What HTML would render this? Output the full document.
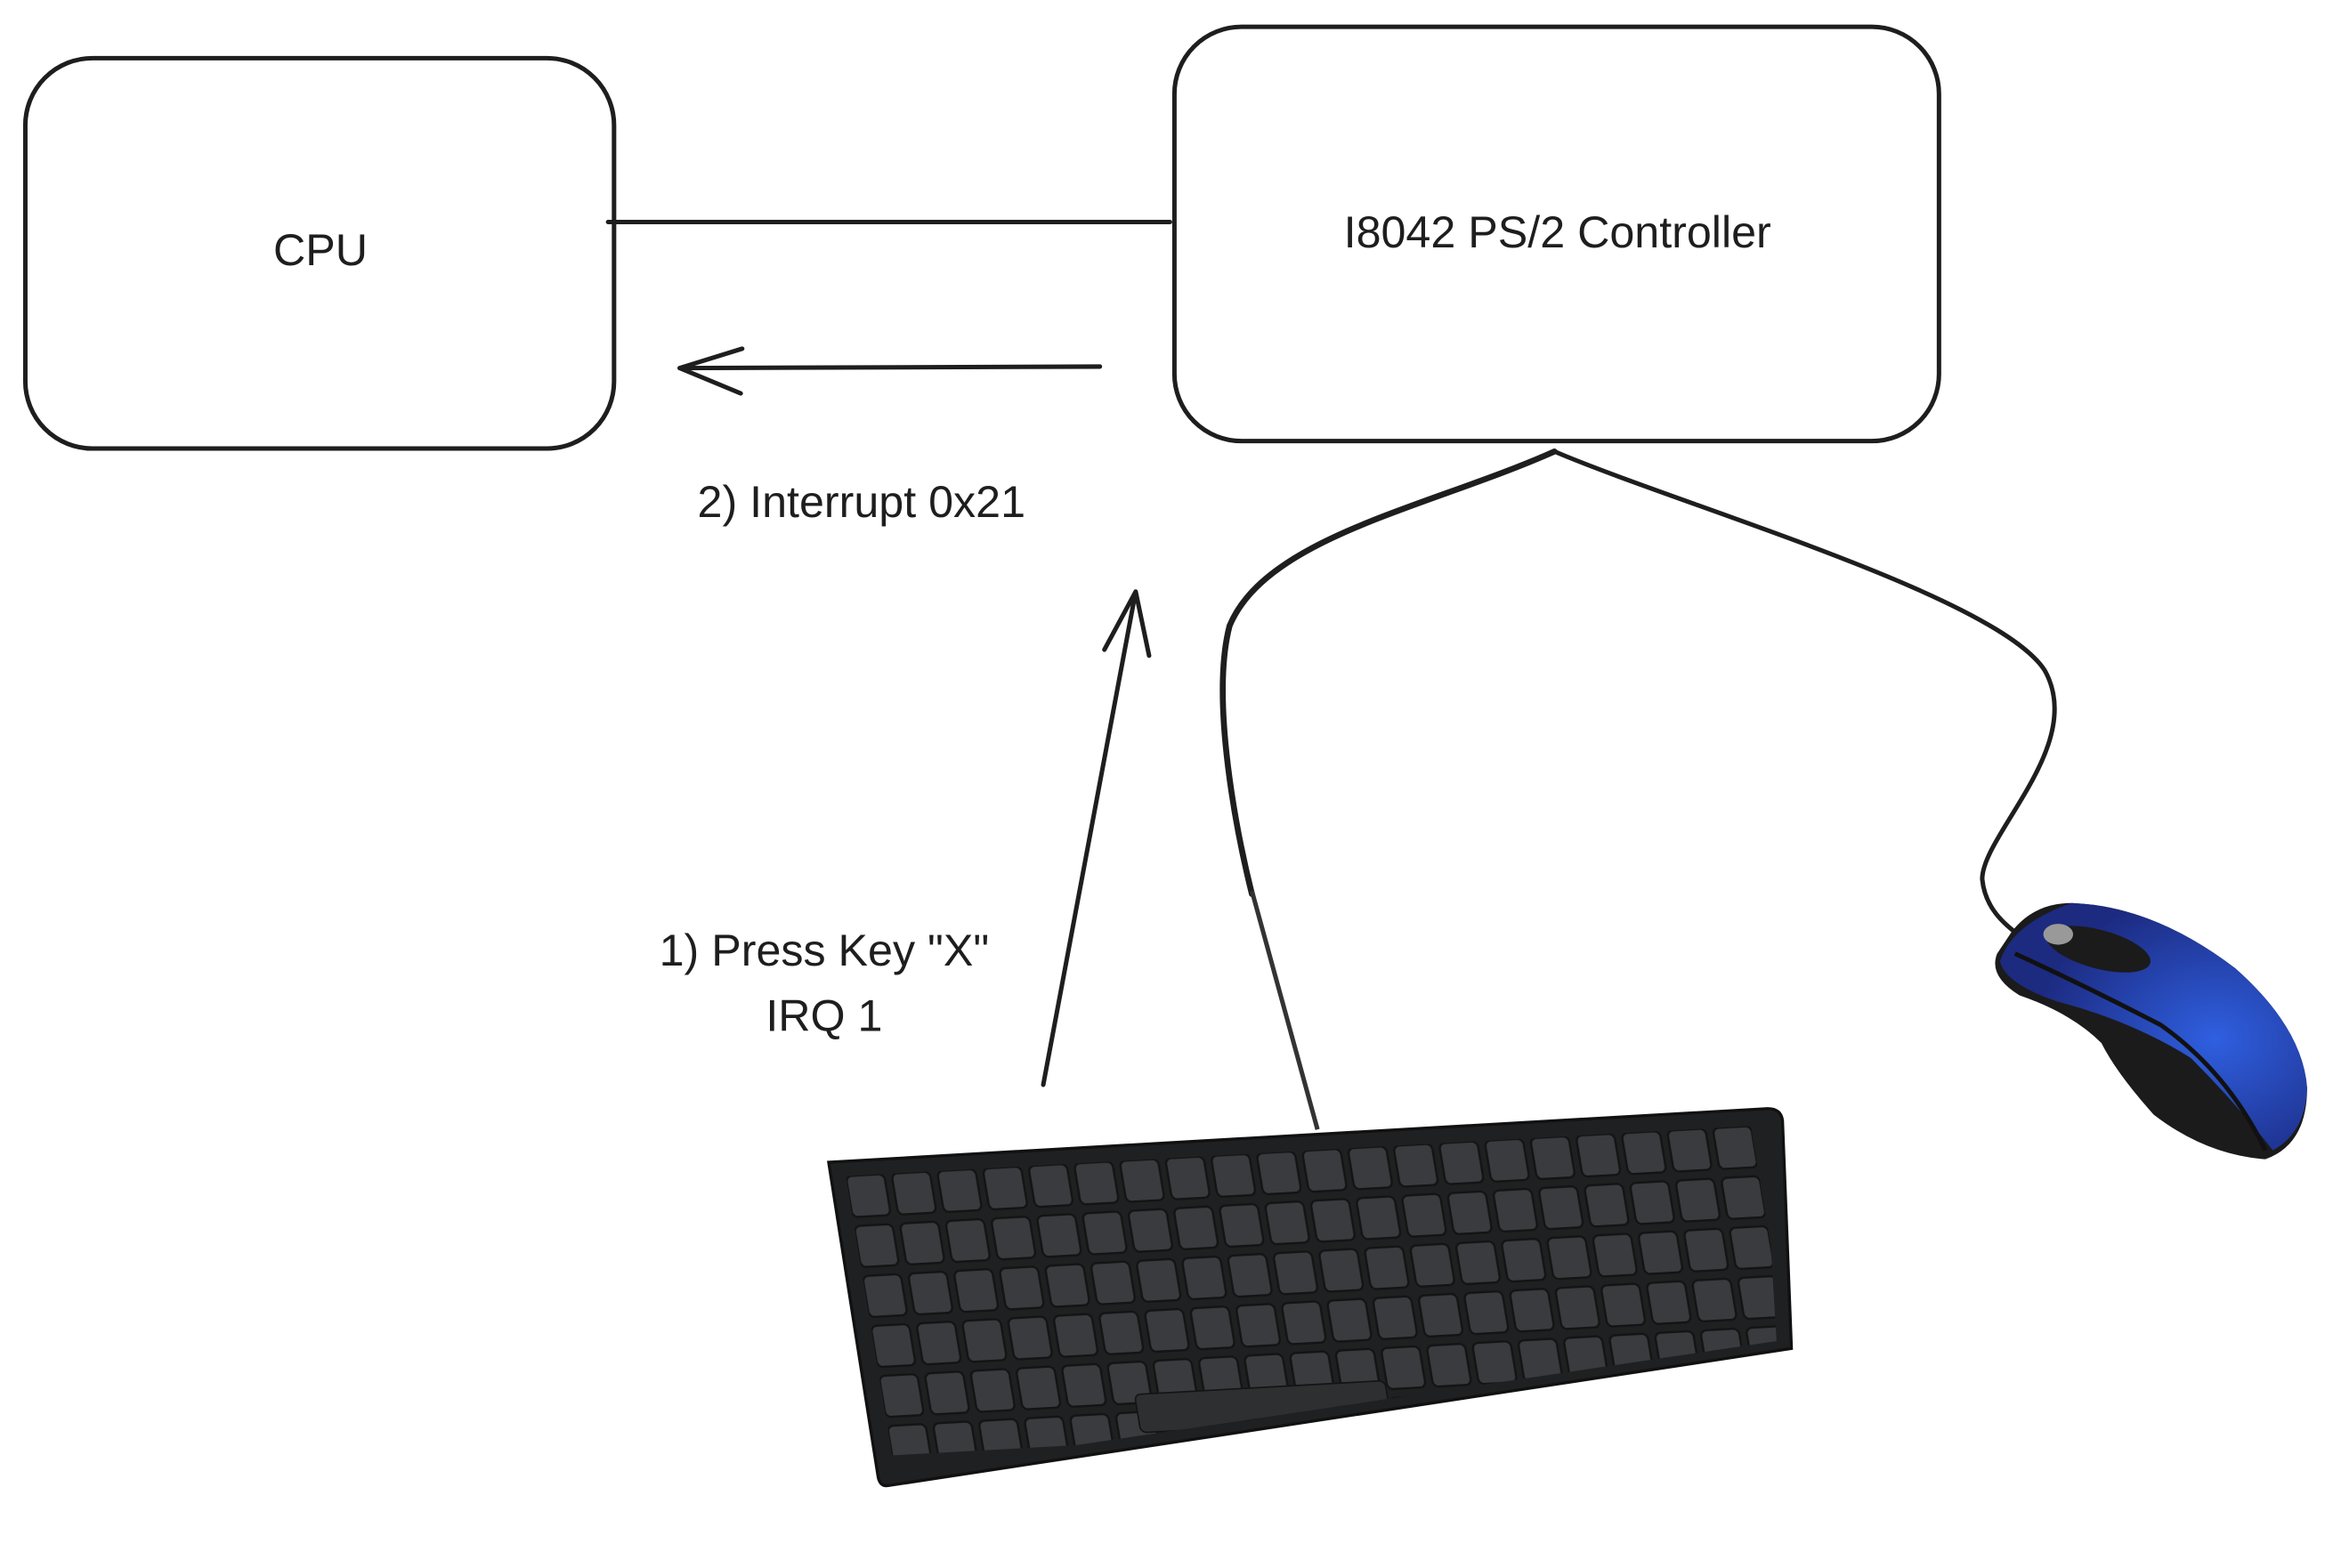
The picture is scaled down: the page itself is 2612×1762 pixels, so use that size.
<!DOCTYPE html>
<html><head><meta charset="utf-8"><style>html,body{margin:0;padding:0;background:#fff}svg{display:block}</style></head>
<body>
<svg width="2612" height="1762" viewBox="0 0 1560 1052.3" xmlns="http://www.w3.org/2000/svg">
<defs>
<pattern id="keys" x="8" y="8" width="31" height="34" patternUnits="userSpaceOnUse">
<rect x="2" y="2" width="26" height="28" rx="4" fill="#3a3b3e" stroke="#141414" stroke-width="1.5"/>
</pattern>
<radialGradient id="blue" cx="0.7" cy="0.55" r="0.6"><stop offset="0" stop-color="#2f5fe0"/><stop offset="1" stop-color="#1c2a80"/></radialGradient>
<clipPath id="kb"><path d="M562 788 L1183 752 L1192 900 L600 988 Z"/></clipPath>
</defs>
<g fill="none" stroke="#1e1e1e" stroke-width="3" stroke-linecap="round" stroke-linejoin="round">
<rect x="17" y="39" width="395" height="262" rx="45"/>
<rect x="788" y="18" width="513" height="278" rx="45"/>
<path d="M408 149 L785 149"/>
<path d="M738 246 L456 247 M498 234 L456 247 L497 264"/>
<path d="M700 728 L762 397 M741 436 L762 397 L771 440"/>
<path d="M1043 303 C 960 340, 850 360, 825 420 C 812 470, 830 560, 840 600" stroke-width="4"/>
<path d="M1043 303 C 1130 340, 1340 400, 1372 450 C 1400 500, 1330 560, 1330 590 C 1332 610, 1345 620, 1355 628" stroke-width="3"/>
</g>
<path d="M840 598 L884 758" stroke="#333" stroke-width="3" fill="none"/>
<g font-family="Liberation Sans, sans-serif" font-size="30" fill="#1e1e1e" text-anchor="middle">
<text x="215" y="178">CPU</text>
<text x="1045" y="166">I8042 PS/2 Controller</text>
<text x="578" y="347">2) Interrupt 0x21</text>
<text x="553" y="648">1) Press Key "X"</text>
<text x="553" y="692">IRQ 1</text>
</g>
<!-- keyboard -->
<path d="M556 780 L1186 744 Q1195 744 1196 752 L1202 905 L596 997 Q590 998 589 990 Z" fill="#1f2022" stroke="#111" stroke-width="2"/>
<g clip-path="url(#kb)">
<g transform="matrix(0.9875,-0.0547,0.1636,0.9864,556,780)">
<rect x="10" y="10" width="615" height="190" fill="url(#keys)"/>
<rect x="180" y="168" width="170" height="26" rx="4" fill="#2e2f31" stroke="#141414"/>
</g>
</g>
<!-- mouse -->
<path d="M1350 625 Q1365 606 1390 606 Q1445 608 1500 650 Q1545 690 1548 730 Q1548 768 1520 778 Q1480 775 1445 748 Q1420 720 1410 700 Q1390 680 1355 668 Q1334 655 1340 640 Z" fill="#1b1b1b"/>
<path d="M1390 606 Q1445 608 1500 650 Q1545 690 1548 730 Q1547 760 1525 772 Q1500 740 1470 710 Q1430 685 1380 672 Q1345 660 1342 645 Q1350 620 1390 606 Z" fill="url(#blue)"/>
<path d="M1352 640 Q1400 662 1450 688 Q1495 720 1520 772" fill="none" stroke="#111" stroke-width="3"/>
<ellipse cx="1408" cy="637" rx="36" ry="13" transform="rotate(15 1408 637)" fill="#1b1b1b"/>
<ellipse cx="1381" cy="627" rx="10" ry="7" fill="#999"/>
</svg>
</body></html>
